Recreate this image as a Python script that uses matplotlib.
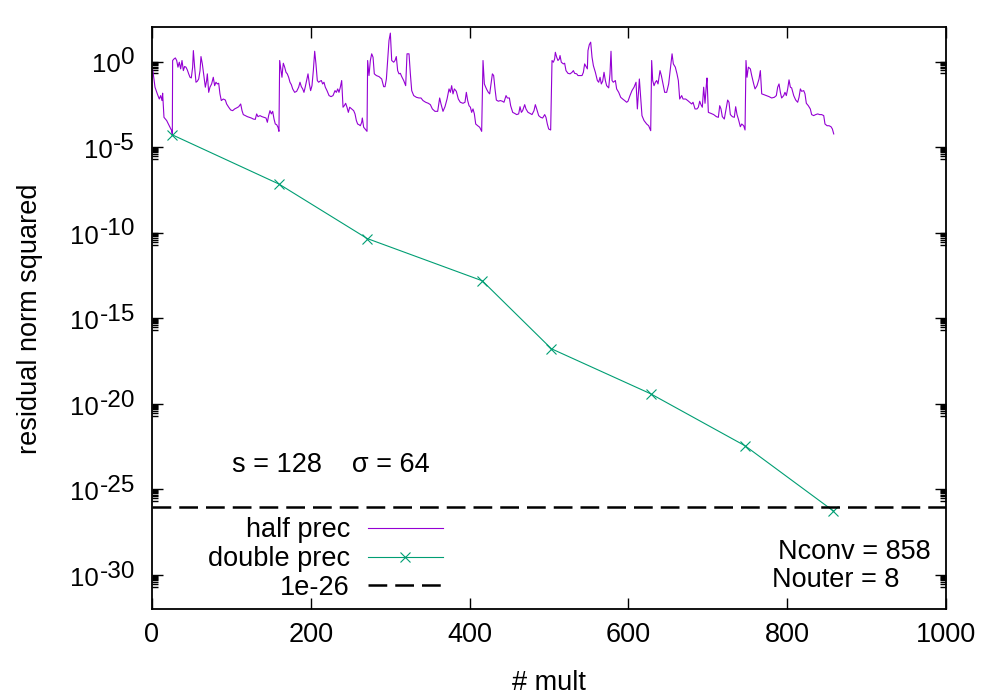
import matplotlib
matplotlib.use("Agg")
import matplotlib.pyplot as plt
import matplotlib.transforms as transforms
import numpy as np

plt.rcParams['font.family'] = ['Liberation Sans', 'DejaVu Sans']

# half precision residual (x = # mult, y = log10 of residual norm squared)
half_mult = [1, 3.8, 6.7, 9.2, 10.9, 12.6, 13.4, 15.1, 18.5, 20.6, 22.7, 24.8, 25.6,
             26.0, 27.7, 29.4, 31.1, 32.7, 34.4, 36.1, 37.8, 39.5, 41.1, 42.8, 44.5, 46.2, 47.9, 49.5,
             51.2, 52.1, 53.7, 55.4, 57.1, 58.8, 60.5, 61.7, 63.4, 65.5, 67.2, 68.8, 69.7, 71.4, 73.0,
             75.1, 77.2, 78.9, 80.6, 82.3, 84.0, 85.6, 87.3, 89.8, 92.4, 94.0, 96.6, 99.1, 101.6, 104.1,
             106.6, 109.2, 111.7, 113.4, 115.0, 117.5, 120.1, 122.6, 125.1, 127.6, 130.1, 131.8, 133.5,
             136.0, 138.5, 141.1, 143.6, 145.3, 146.9, 148.6, 150.3, 152.0, 153.7, 155.3, 157.0, 158.7,
             159.9,
             160.8, 162.5, 163.7, 164.6, 165.4, 167.1, 168.8, 170.4, 172.1, 173.8, 175.5, 177.2, 179.7,
             182.2, 184.7, 186.4, 188.1, 189.8, 191.4, 193.1, 194.8, 196.5, 198.2, 199.8, 201.5, 203.2,
             204.9, 206.5, 208.2, 209.9, 211.6, 213.3, 214.9, 216.6, 218.3, 220.4, 223.0, 225.5, 228.0,
             230.5, 232.2, 233.9, 235.5, 237.2, 238.9, 240.6, 242.2, 243.9, 245.6, 247.3, 249.0, 251.5,
             254.0, 255.7, 257.4, 259.0, 260.7, 262.4, 264.1, 264.9, 266.6, 268.3, 270.8,
             271.6, 273.3, 275.0, 276.7, 278.4, 280.0, 282.6, 285.9, 289.3, 291.8, 293.5, 295.2, 296.8,
             298.5, 300.2, 301.9, 304.4, 306.1, 307.7, 309.4, 311.1, 312.8, 314.5, 317.0, 319.5, 321.2,
             323.7, 325.4, 327.1, 329.6, 333.0, 336.3, 338.8, 341.3, 344.7, 348.0, 350.6, 353.1, 356.4,
             359.8, 362.3, 364.0, 366.5, 369.0, 371.6, 374.1, 375.8, 377.4, 379.1, 380.8, 383.3, 385.8,
             388.3, 391.7, 394.2, 395.9, 397.6, 399.3, 401.0, 402.6, 404.3, 406.0, 407.7, 410.2, 412.7,
             415.2,
             416.9, 418.6, 420.3, 421.9, 423.6, 425.3, 427.0, 428.7, 430.3, 432.0, 433.7, 436.2, 438.7,
             441.3, 443.3, 445.9, 447.5, 450.1, 451.7, 454.3, 456.8, 459.3, 461.8, 463.5, 465.2, 466.8,
             469.4, 471.0, 473.6, 476.1, 478.6, 481.1, 482.8, 484.5, 487.0, 489.5, 492.0, 494.6, 496.2,
             497.9, 499.6, 502.1,
             503.8, 505.5, 507.1, 508.0, 509.7, 511.3, 513.0, 513.9, 515.5, 518.1, 519.7, 521.4, 523.9,
             526.5, 529.0, 530.7, 532.3, 534.9, 536.5, 539.1, 541.6, 543.3, 544.9, 546.6, 548.3, 549.1,
             550.8, 552.5, 554.2, 555.9, 558.4, 560.9, 562.6, 564.3, 565.9, 567.6, 569.3, 571.0, 572.6,
             575.2, 576.8, 578.1, 579.4, 581.0, 583.6, 585.2, 587.8, 590.3, 592.8, 595.3, 597.8, 599.5,
             602.0, 604.5, 607.1, 609.6, 611.3, 613.8, 615.5, 617.1, 619.7, 623.0, 625.5, 628.1,
             629.3, 630.6, 632.3, 634.0, 635.6, 637.3, 639.8, 641.5, 644.0, 645.7, 648.2, 650.7, 653.3,
             655.0, 656.6, 659.1, 661.2, 662.9, 664.6, 667.1, 668.8, 672.1, 674.7, 677.2, 679.7, 681.4,
             683.9, 686.4, 688.1, 689.8, 691.4, 693.1, 694.8, 696.5, 698.2, 699.0, 700.7, 704.0, 707.4,
             710.8, 713.3, 715.0, 716.6, 718.3, 720.8, 723.4, 725.0, 726.7, 728.4, 730.9, 733.4, 735.1,
             736.8, 738.5, 741.0, 742.7, 745.2, 746.9,
             748.1, 749.4, 751.1, 753.6, 755.3, 757.8, 759.5, 762.0, 764.5, 766.2, 767.9, 770.4, 773.7,
             777.1, 780.4, 783.8, 786.3, 788.0, 789.7, 791.4, 793.0, 795.6, 797.2, 798.9, 800.6, 802.3,
             804.0, 805.6, 808.2, 810.7, 813.2, 814.9, 816.6, 818.2, 820.8, 822.4, 824.1, 826.6, 829.1,
             830.8, 833.3, 835.9, 838.4, 840.9, 843.4, 846.0, 847.6, 850.2, 852.7, 855.2, 856.9, 858.6]
half_log10 = [-0.50, -1.50, -1.89, -2.19, -1.99, -2.28, -1.85, -3.26, -3.45, -3.65, -3.84, -4.04, -4.27,
              0.06, 0.15, 0.21, 0.06, -0.33, -0.04, -0.43, 0.06, -0.53, -0.29, -0.33, -0.49, -0.72, -0.92, -0.96,
              -0.33, 0.64, -0.33, -1.21, -1.15, -1.02, -0.53, 0.29, -0.14, -0.92, -1.50, -1.11, -0.72, -1.80, -1.50,
              -1.31, -0.92, -1.41, -1.21, -1.31, -1.27, -1.89, -2.28, -2.19, -2.25, -2.48, -2.67, -2.83, -2.87, -2.77,
              -2.71, -2.64, -2.48, -2.87, -3.10, -3.16, -3.22, -3.26, -3.30, -3.36, -3.38, -3.06, -3.22,
              -3.16, -3.22, -3.26, -3.30, -3.55, -3.16, -2.87, -3.06, -2.91, -3.36, -3.65, -3.69, -3.84,
              -4.08,
              0.06, -0.53, -0.92, -0.43, -0.10, -0.33, -0.63, -0.72, -0.92, -1.21, -1.35, -1.60, -1.80,
              -1.74, -1.50, -1.21, -1.47, -1.60, -1.80, -1.47, -1.11, -0.72, -1.31, -1.70, -1.41, -0.53,
              0.60, -0.14, -1.11, -1.21, -1.15, -1.11, -1.31, -1.21, -1.50, -1.70, -1.99, -2.05, -1.99,
              -1.70, -1.80, -1.60, -1.80, -1.50, -1.11, -2.67, -2.58, -2.44, -2.67, -2.97, -2.67, -2.77,
              -2.87, -3.06, -3.45, -3.65, -3.69, -3.75, -3.55, -3.30, -3.84, -3.94, -4.08,
              0.06, -0.82, 0.06, 0.45, 0.25, -0.72, -0.82, -0.88, -1.02, -1.47, -1.47, -1.02, 0.06,
              1.23, 1.66, 0.06, -0.04, 0.06, 0.29, -0.53, -0.72, -0.69, -0.88, -1.11, -1.41, 0.45,
              0.45, -0.72, -1.70, -1.99, -2.09, -2.13, -2.13, -2.28, -2.38, -2.44, -2.52, -2.77, -2.91,
              -2.91, -2.13, -2.48, -2.91, -2.64, -2.19, -1.60, -1.80, -1.41, -1.89, -1.60, -1.74, -2.19,
              -2.38, -2.44, -2.38, -1.80, -2.28, -2.58, -2.67, -2.97, -2.77, -3.06, -3.65, -3.75, -3.84,
              -4.08,
              0.06, -1.31, -1.50, -1.66, -1.80, -1.89, -1.31, -0.72, -0.82, -1.60, -2.25, -2.32, -2.28,
              -2.32, -2.38, -1.99, -2.13, -2.13, -2.58, -2.97, -3.03, -3.10, -3.06, -2.64, -2.97, -2.87,
              -2.52, -2.77, -2.97, -3.03, -3.10, -2.87, -2.52, -2.77, -3.16, -3.26, -3.30, -3.10, -3.26,
              -3.65, -3.94, -4.00,
              0.06, -0.04, 0.15, 0.54, 0.25, 0.06, 0.15, 0.35, -0.04, -0.14, -0.10, -0.53, -0.69,
              -0.72, -0.63, -0.53, -0.69, -0.72, -0.82, -0.82, -0.82, -0.63, -0.14, -0.29, -0.43, 0.64,
              0.99, 1.13, 0.25, -0.24, -0.63, -1.11, -1.21, -0.92, -1.31, -1.15, -0.63, -1.11, -1.41,
              -1.54, -0.72, 0.60, -1.11, -1.21, -1.11, -1.60, -1.80, -2.09, -2.19, -2.28, -2.38, -2.32,
              -1.99, -1.70, -1.50, -1.21, -2.77, -1.02, -2.09, -3.16, -3.45, -3.65, -3.75, -4.04,
              0.06, -1.11, -1.41, -1.21, -1.11, -1.31, -0.53, -0.82, -1.41, -1.80, -1.80, -1.31, -0.24,
              0.45, -0.14, -0.33, -0.72, -1.11, -2.19, -1.99, -2.19, -2.19, -2.28, -2.38, -2.48, -2.38,
              -2.77, -2.77, -2.67, -2.32, -2.52, -2.67, -1.50, -2.44, -1.35, -0.96, -2.97, -3.03, -3.10,
              -3.22, -3.26, -2.58, -2.77, -3.22, -3.36, -2.67, -2.25, -2.38, -3.10, -3.22, -3.26, -2.64,
              -3.10, -3.36, -3.81, -3.65, -3.75, -4.00,
              0.06, -0.92, -0.33, -0.43, -0.82, -1.31, -1.60, -1.41, -1.02, -0.53, -1.89, -1.93, -1.99,
              -2.05, -2.13, -2.09, -1.99, -1.50, -1.31, -1.80, -2.13, -1.99, -1.80, -1.99, -1.60, -1.07,
              -1.50, -1.54, -1.99, -2.25, -2.38, -2.09, -1.60, -1.74, -1.70, -1.89, -2.44, -2.58, -2.77,
              -3.10, -3.16, -3.10, -3.06, -3.10, -3.10, -3.16, -3.65, -3.75, -3.75, -3.81, -3.94, -4.23]

# double precision residual at the end of each outer iteration
double_mult = [25, 160, 271, 416, 503, 628, 747, 858]
double_log10 = [-4.27, -7.16, -10.34, -12.81, -16.78, -19.41, -22.45, -26.25]

tolerance = 1e-26
y_major_exp = [0, -5, -10, -15, -20, -25, -30]
x_ticks = [0, 200, 400, 600, 800, 1000]

fs = 19.5
fig = plt.figure(figsize=(9.96, 6.98), dpi=100)
ax = fig.add_axes([0.1526, 0.1271, 0.7972, 0.8338])

ax.plot(half_mult, 10.0 ** np.array(half_log10), color='#9400d3', lw=0.8, label='half prec')
ax.plot(double_mult, 10.0 ** np.array(double_log10), color='#009e73', lw=0.8,
        marker='x', markersize=7.5, markeredgewidth=0.8, label='double prec')
ax.axhline(tolerance, color='black', lw=1.8, dashes=(7.5, 3.2), label='1e-26')

ax.set_yscale('log')
ax.set_xlim(0, 1000)
ax.set_ylim(1e-32, 1e2)
ax.set_yticks([10.0 ** e for e in y_major_exp])
ax.set_yticklabels([])
minor = [m * 10.0 ** (e - 1) for e in y_major_exp for m in range(2, 10)]
ax.set_yticks(minor, minor=True)
ax.set_yticklabels([], minor=True)
ax.set_xticks(x_ticks)
ax.set_xticklabels([str(t) for t in x_ticks])

ax.tick_params(which='both', direction='in', top=True, right=True, labelsize=fs, width=1.0)
ax.tick_params(which='major', length=8, pad=9)
ax.tick_params(which='minor', length=4.5)
for s in ax.spines.values():
    s.set_linewidth(1.3)

# gnuplot style 10^n labels with a nearly full size exponent
ytrans = transforms.blended_transform_factory(ax.transAxes, ax.transData)
for e in y_major_exp:
    sup = ax.annotate(str(e), xy=(0, 10.0 ** e), xycoords=ytrans, xytext=(-12.2, -1.9),
                      textcoords='offset points', ha='right', va='baseline', fontsize=17.6)
    ax.annotate('10', xy=(0, 10.0 ** e), xycoords=(sup, ytrans), xytext=(-0.6, -7.9),
                textcoords='offset points', ha='right', va='baseline', fontsize=18.6)

ax.set_xlabel('# mult', fontsize=fs, labelpad=16)
ax.set_ylabel('residual norm squared', fontsize=fs)
ax.yaxis.set_label_coords(-0.137, 0.5)

ax.text(0.1008, 0.248, 's = 128    σ = 64', transform=ax.transAxes, fontsize=fs, va='center', ha='left')
ax.text(0.788, 0.099, 'Nconv = 858', transform=ax.transAxes, fontsize=fs, va='center', ha='left')
ax.text(0.781, 0.050, 'Nouter = 8', transform=ax.transAxes, fontsize=fs, va='center', ha='left')

leg = ax.legend(loc='center right', bbox_to_anchor=(0.3665, 0.0864), frameon=False, markerfirst=False,
                fontsize=fs, handlelength=2.78, handletextpad=0.66, borderpad=0, borderaxespad=0,
                labelspacing=0.1)

fig.savefig('out.png', dpi=100)
